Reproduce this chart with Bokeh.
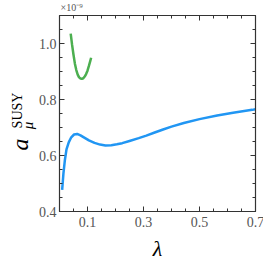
import math
from bokeh.plotting import figure
from bokeh.models import Range1d
from bokeh.core.properties import value
from bokeh.embed import file_html
from bokeh.resources import INLINE

# data (a_mu^SUSY in units of 1e-9)
blue_lambda = [0.0095, 0.014, 0.019, 0.025, 0.033, 0.042, 0.052, 0.063, 0.075, 0.090, 0.105,
               0.125, 0.145, 0.164, 0.185, 0.205, 0.224, 0.250, 0.283, 0.310, 0.340,
               0.370, 0.400, 0.444, 0.500, 0.563, 0.620, 0.688, 0.700]
blue_amu = [0.477, 0.535, 0.582, 0.622, 0.647, 0.665, 0.675, 0.677, 0.672, 0.663, 0.654,
            0.645, 0.639, 0.636, 0.637, 0.640, 0.644, 0.652, 0.662, 0.671, 0.682,
            0.693, 0.703, 0.716, 0.730, 0.743, 0.753, 0.763, 0.765]
green_lambda = [0.040, 0.045, 0.050, 0.055, 0.060, 0.065, 0.070, 0.075, 0.080, 0.085, 0.090,
                0.095, 0.100, 0.105, 0.110, 0.113]
green_amu = [1.035, 0.995, 0.960, 0.928, 0.905, 0.889, 0.879, 0.875, 0.874, 0.876, 0.882,
             0.891, 0.903, 0.920, 0.938, 0.949]

x_ticks = [0.1, 0.3, 0.5, 0.7]
y_ticks = [0.4, 0.6, 0.8, 1.0]
x_tick_labels = ["0.1", "0.3", "0.5", "0.7"]
y_tick_labels = ["0.4", "0.6", "0.8", "1.0"]
x_minor = [round(i * 0.05, 3) for i in range(0, 15)]
y_minor = [round(0.4 + i * 0.05, 3) for i in range(0, 15)]
x_label = "λ"
scale_label = "×10⁻⁹"

# axes box (data) and its pixel margins inside the canvas
X0, X1, Y0, Y1 = 0.0, 0.7, 0.4, 1.1
W, H = 263, 263
ML, MR, MT, MB = 59, 8, 15, 52
FW, FH = W - ML - MR, H - MT - MB
dx = (X1 - X0) / FW   # data per pixel
dy = (Y1 - Y0) / FH

p = figure(width=W, height=H, output_backend="svg", toolbar_location=None,
           x_range=Range1d(X0 - ML * dx, X1 + MR * dx),
           y_range=Range1d(Y0 - MB * dy, Y1 + MT * dy),
           min_border=0, x_axis_type=None, y_axis_type=None)
p.grid.visible = False
p.outline_line_color = None
p.background_fill_color = "white"
p.border_fill_color = "white"

font = value("Liberation Serif")
axis_color = "#333333"
label_color = "#555555"

# curves
p.line(blue_lambda, blue_amu, line_color="#2196F3", line_width=2.5)
p.line(green_lambda, green_amu, line_color="#4CAF50", line_width=2.5)

# axes box
p.quad(left=[X0], right=[X1], bottom=[Y0], top=[Y1], fill_color=None,
       line_color=axis_color, line_width=1.2)

# inward ticks on all four sides
for ticks, L in ((x_minor, 3), (x_ticks, 5)):
    n = len(ticks)
    p.segment(x0=ticks, x1=ticks, y0=[Y0] * n, y1=[Y0 + L * dy] * n, line_color=axis_color, line_width=1)
    p.segment(x0=ticks, x1=ticks, y0=[Y1] * n, y1=[Y1 - L * dy] * n, line_color=axis_color, line_width=1)
for ticks, L in ((y_minor, 3), (y_ticks, 5)):
    n = len(ticks)
    p.segment(x0=[X0] * n, x1=[X0 + L * dx] * n, y0=ticks, y1=ticks, line_color=axis_color, line_width=1)
    p.segment(x0=[X1] * n, x1=[X1 - L * dx] * n, y0=ticks, y1=ticks, line_color=axis_color, line_width=1)

# tick labels
p.text(x=x_ticks, y=[Y0] * len(x_ticks), text=x_tick_labels, text_font=font,
       text_font_size="14px", text_color=label_color, text_align="center",
       text_baseline="top", y_offset=5)
p.text(x=[X0] * len(y_ticks), y=y_ticks, text=y_tick_labels, text_font=font,
       text_font_size="14px", text_color=label_color, text_align="right",
       text_baseline="middle", x_offset=-3)

# axis labels
p.text(x=[(X0 + X1) / 2], y=[Y0], text=[x_label], text_font=font, text_font_size="22px",
       text_font_style="italic", text_align="center", text_baseline="middle", y_offset=37)
p.text(x=[X0], y=[Y0], text=["a"], text_font=font, text_font_size="24px",
       text_font_style="italic", text_align="center", text_baseline="middle",
       angle=math.pi / 2, x_offset=-40, y_offset=-67)
p.text(x=[X0], y=[Y0], text=["μ"], text_font=font, text_font_size="15px",
       text_font_style="italic", text_align="center", text_baseline="middle",
       angle=math.pi / 2, x_offset=-32, y_offset=-86)
p.text(x=[X0], y=[Y0], text=["SUSY"], text_font=font, text_font_size="14px",
       text_align="center", text_baseline="middle",
       angle=math.pi / 2, x_offset=-42, y_offset=-101)
p.text(x=[X0], y=[Y1], text=[scale_label], text_font=font, text_font_size="10px",
       text_color=label_color, text_align="left", text_baseline="middle",
       x_offset=1, y_offset=-8)

open("out.html", "w").write(file_html(p, INLINE))
